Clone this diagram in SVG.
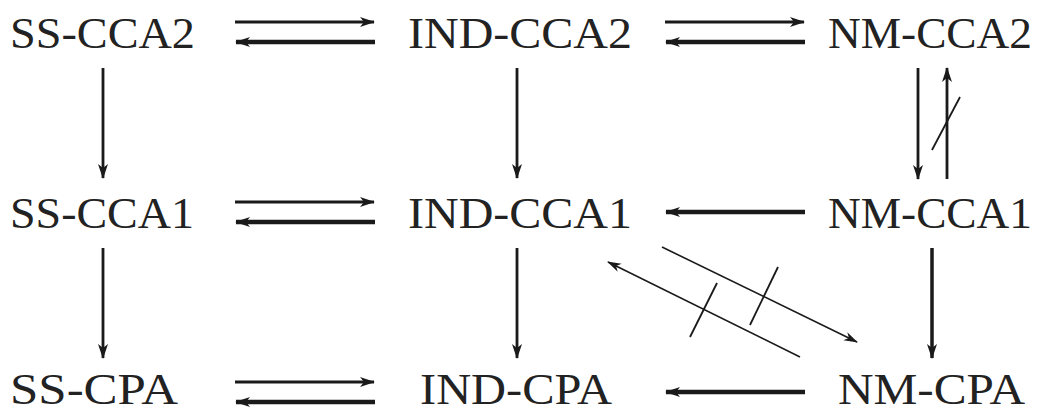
<svg xmlns="http://www.w3.org/2000/svg" width="1040" height="412" viewBox="0 0 1040 412">
<defs>
<marker id="ah" markerUnits="userSpaceOnUse" markerWidth="20" markerHeight="14" viewBox="-16 -7 20 14" refX="0" refY="0" orient="auto">
<path d="M1,0 L-14,-5 L-10,0 L-14,5 Z" fill="#1a1a1a"/>
</marker>
<marker id="ahs" markerUnits="userSpaceOnUse" markerWidth="20" markerHeight="14" viewBox="-16 -7 20 14" refX="0" refY="0" orient="auto">
<path d="M1,0 L-13,-4.5 L-9,0 L-13,4.5 Z" fill="#1a1a1a"/>
</marker>
</defs>
<style>
text { font-family: "Liberation Serif", "DejaVu Serif", serif; font-size: 44px; fill: #222; }
.a { stroke: #1a1a1a; fill: none; marker-end: url(#ah); }
.t { stroke-width: 3; }
.b { stroke-width: 4.5; }
.v { stroke-width: 2.8; }
.d { stroke-width: 1.6; marker-end: url(#ahs); }
.s { stroke: #1a1a1a; stroke-width: 1.8; fill: none; }
</style>
<rect width="1040" height="412" fill="#fff"/>
<g id="ss-cca2"><text x="10" y="48" textLength="185" lengthAdjust="spacingAndGlyphs">SS-CCA2</text></g>
<g id="ind-cca2"><text x="408" y="48" textLength="224" lengthAdjust="spacingAndGlyphs">IND-CCA2</text></g>
<g id="nm-cca2"><text x="828" y="48" textLength="204" lengthAdjust="spacingAndGlyphs">NM-CCA2</text></g>
<g id="ss-cca1"><text x="10" y="228" textLength="184" lengthAdjust="spacingAndGlyphs">SS-CCA1</text></g>
<g id="ind-cca1"><text x="408" y="228" textLength="224" lengthAdjust="spacingAndGlyphs">IND-CCA1</text></g>
<g id="nm-cca1"><text x="828" y="228" textLength="204" lengthAdjust="spacingAndGlyphs">NM-CCA1</text></g>
<g id="ss-cpa"><text x="10" y="404" textLength="168" lengthAdjust="spacingAndGlyphs">SS-CPA</text></g>
<g id="ind-cpa"><text x="420" y="404" textLength="192" lengthAdjust="spacingAndGlyphs">IND-CPA</text></g>
<g id="nm-cpa"><text x="838" y="404" textLength="187" lengthAdjust="spacingAndGlyphs">NM-CPA</text></g>
<g id="connectors">
<line class="a t" x1="235" y1="22" x2="374" y2="22"/>
<line class="a b" x1="375" y1="42" x2="236" y2="42"/>
<line class="a t" x1="665" y1="22" x2="804" y2="22"/>
<line class="a b" x1="805" y1="42" x2="666" y2="42"/>
<line class="a t" x1="235" y1="202" x2="374" y2="202"/>
<line class="a b" x1="375" y1="222" x2="236" y2="222"/>
<line class="a b" x1="805" y1="212" x2="666" y2="212"/>
<line class="a t" x1="235" y1="382" x2="374" y2="382"/>
<line class="a b" x1="375" y1="402" x2="236" y2="402"/>
<line class="a b" x1="805" y1="392" x2="666" y2="392"/>
<line class="a v" x1="103" y1="68" x2="103" y2="178"/>
<line class="a v" x1="103" y1="248" x2="103" y2="358"/>
<line class="a v" x1="517" y1="68" x2="517" y2="178"/>
<line class="a v" x1="517" y1="248" x2="517" y2="358"/>
<line class="a v" x1="918" y1="68" x2="918" y2="179"/>
<line class="a v" x1="947" y1="179" x2="947" y2="68"/>
<line class="s" x1="932" y1="150" x2="960" y2="97"/>
<line class="a" style="stroke-width:3.5" x1="932" y1="248" x2="932" y2="358"/>
<line class="a d" x1="800" y1="357" x2="608" y2="262"/>
<line class="a d" x1="662" y1="247" x2="857" y2="342"/>
<line class="s" x1="690" y1="337" x2="717" y2="283"/>
<line class="s" x1="750" y1="325" x2="778" y2="267"/>
</g>
</svg>
